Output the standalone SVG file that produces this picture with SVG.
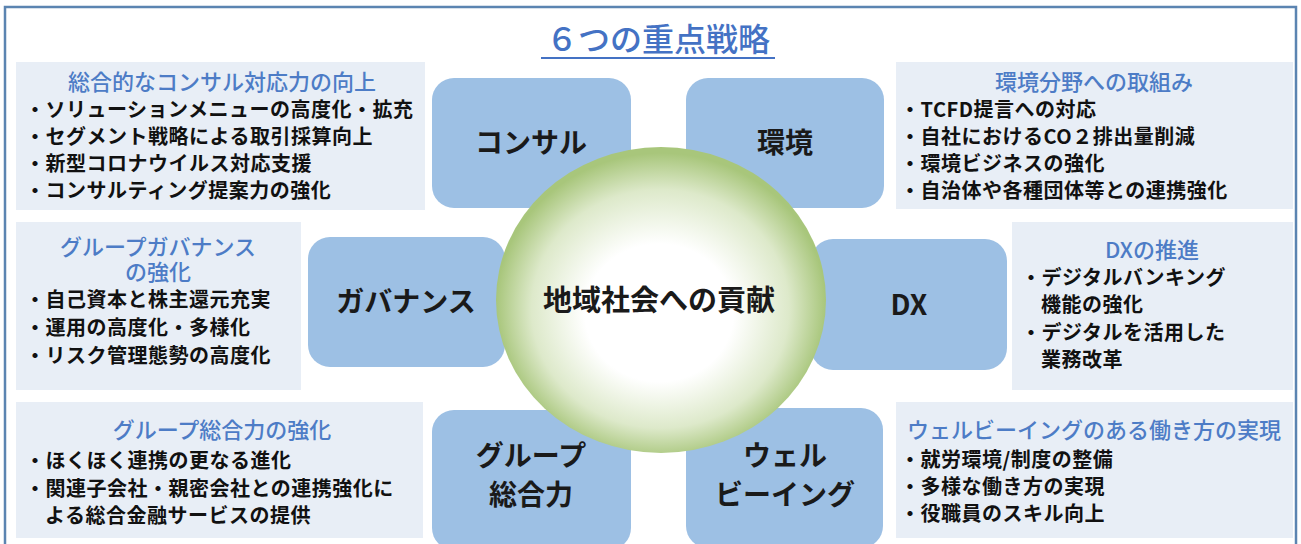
<svg xmlns="http://www.w3.org/2000/svg" width="1301" height="544" viewBox="0 0 1301 544">
<style>
text{font-family:"Noto Sans CJK JP","Noto Sans CJK SC",sans-serif;}
.box{fill:#E8EEF6;}
.node{fill:#9DC0E4;}
.bt{font-size:22px;fill:#4D7CC6;font-weight:500;text-anchor:middle;}
.b{font-size:20px;fill:#111;font-weight:bold;letter-spacing:0.5px;}
.nl{font-size:28px;fill:#1a1a1a;font-weight:bold;text-anchor:middle;}
</style>
<defs>
<radialGradient id="g" cx="0.5" cy="0.52" r="0.5" fx="0.49" fy="0.56">
<stop offset="0" stop-color="#FFFFFF"/>
<stop offset="0.45" stop-color="#FFFFFF"/>
<stop offset="0.78" stop-color="#DDE9CA"/>
<stop offset="1" stop-color="#A8C67B"/>
</radialGradient>
</defs>
<rect x="5" y="7" width="1291" height="545" fill="#FFFFFF" stroke="#5B84B1" stroke-width="2.5"/>
<g id="title">
<text x="658" y="51" font-size="32" fill="#4472C4" font-weight="500" text-anchor="middle">６つの重点戦略</text>
<line x1="541" y1="58" x2="775" y2="58" stroke="#4472C4" stroke-width="2"/>
</g>
<g id="box-consul">
<rect class="box" x="16" y="62" width="409" height="148"/>
<text class="bt" x="222" y="90">総合的なコンサル対応力の向上</text>
<text class="b" x="25" y="117">・ソリューションメニューの高度化・拡充</text>
<text class="b" x="25" y="144">・セグメント戦略による取引採算向上</text>
<text class="b" x="25" y="171">・新型コロナウイルス対応支援</text>
<text class="b" x="25" y="198">・コンサルティング提案力の強化</text>
</g>
<g id="box-env">
<rect class="box" x="896" y="62" width="397" height="147"/>
<text class="bt" x="1094" y="90">環境分野への取組み</text>
<text class="b" x="900" y="117">・TCFD提言への対応</text>
<text class="b" x="900" y="144">・自社におけるCO２排出量削減</text>
<text class="b" x="900" y="171">・環境ビジネスの強化</text>
<text class="b" x="900" y="198">・自治体や各種団体等との連携強化</text>
</g>
<g id="box-gov">
<rect class="box" x="16" y="222" width="285" height="168"/>
<text class="bt" x="158" y="255">グループガバナンス</text>
<text class="bt" x="158" y="280">の強化</text>
<text class="b" x="25" y="307">・自己資本と株主還元充実</text>
<text class="b" x="25" y="335">・運用の高度化・多様化</text>
<text class="b" x="25" y="363">・リスク管理態勢の高度化</text>
</g>
<g id="box-dx">
<rect class="box" x="1012" y="222" width="281" height="168"/>
<text class="bt" x="1152" y="258">DXの推進</text>
<text class="b" x="1021" y="285">・デジタルバンキング</text>
<text class="b" x="1041" y="312">機能の強化</text>
<text class="b" x="1021" y="340">・デジタルを活用した</text>
<text class="b" x="1041" y="367">業務改革</text>
</g>
<g id="box-group">
<rect class="box" x="16" y="402" width="407" height="136"/>
<text class="bt" x="222" y="438">グループ総合力の強化</text>
<text class="b" x="25" y="468">・ほくほく連携の更なる進化</text>
<text class="b" x="25" y="496">・関連子会社・親密会社との連携強化に</text>
<text class="b" x="45" y="523">よる総合金融サービスの提供</text>
</g>
<g id="box-wb">
<rect class="box" x="896" y="402" width="397" height="136"/>
<text class="bt" x="1094" y="438">ウェルビーイングのある働き方の実現</text>
<text class="b" x="900" y="467">・就労環境/制度の整備</text>
<text class="b" x="900" y="494">・多様な働き方の実現</text>
<text class="b" x="900" y="521">・役職員のスキル向上</text>
</g>
<g id="node-consul">
<rect class="node" x="432" y="78" width="199" height="130" rx="22"/>
<text class="nl" x="531" y="153">コンサル</text>
</g>
<g id="node-env">
<rect class="node" x="686" y="78" width="198" height="130" rx="22"/>
<text class="nl" x="785" y="153">環境</text>
</g>
<g id="node-gov">
<rect class="node" x="308" y="237" width="197" height="130" rx="22"/>
<text class="nl" x="406" y="312">ガバナンス</text>
</g>
<g id="node-dx">
<rect class="node" x="811" y="239" width="196" height="131" rx="22"/>
<text class="nl" x="909" y="315">DX</text>
</g>
<g id="node-group">
<rect class="node" x="432" y="410" width="199" height="140" rx="22"/>
<text class="nl" x="531" y="466">グループ</text>
<text class="nl" x="531" y="505">総合力</text>
</g>
<g id="node-wb">
<rect class="node" x="686" y="408" width="197" height="140" rx="22"/>
<text class="nl" x="785" y="466">ウェル</text>
<text class="nl" x="785" y="505">ビーイング</text>
</g>
<g id="center">
<ellipse cx="661" cy="300" rx="165" ry="153" fill="url(#g)"/>
<text x="659" y="311" font-size="29" fill="#1a1a1a" font-weight="bold" text-anchor="middle">地域社会への貢献</text>
</g>
<g id="connectors"></g>
</svg>
